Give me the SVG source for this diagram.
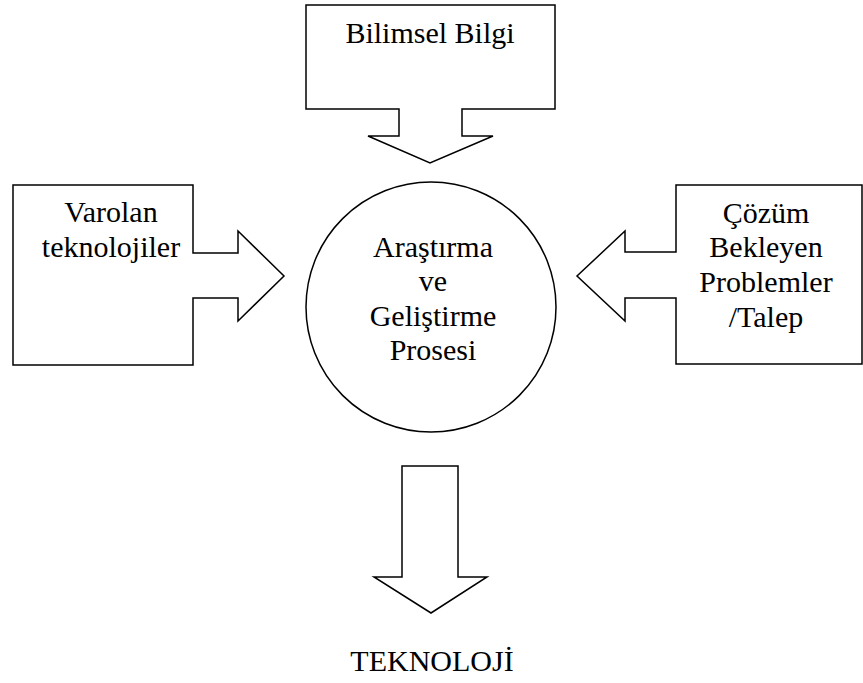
<svg xmlns="http://www.w3.org/2000/svg" width="863" height="683" viewBox="0 0 863 683">
  <style>
    .shape { fill: #ffffff; stroke: #000000; stroke-width: 1.5; stroke-linejoin: miter; }
    .label { font-size: 30px; fill: #000000; text-anchor: middle; }
  </style>
  <rect x="0" y="0" width="863" height="683" fill="#ffffff"/>

  <g font-family="'Liberation Serif', 'DejaVu Serif', serif">
  <!-- Scientific knowledge: callout box with downward arrow -->
  <g id="bilimsel-bilgi">
    <path class="shape" d="M306,5 H555 V109 H462 V136 H493 L430,163 L368,136 H399 V109 H306 Z"/>
    <text class="label" x="430" y="43">Bilimsel Bilgi</text>
  </g>

  <!-- Existing technologies: callout box with right arrow -->
  <g id="varolan-teknolojiler">
    <path class="shape" d="M13,185 H193 V253 H238 V231 L284,276 L238,321 V298 H193 V365 H13 Z"/>
    <text class="label" x="111" y="222">Varolan</text>
    <text class="label" x="111" y="257">teknolojiler</text>
  </g>

  <!-- Problems awaiting solution: callout box with left arrow -->
  <g id="cozum-bekleyen">
    <path class="shape" d="M862,185 H676 V252 H625 V231 L577,276 L625,321 V298 H676 V364 H862 Z"/>
    <text class="label" x="766" y="223">Çözüm</text>
    <text class="label" x="766" y="257">Bekleyen</text>
    <text class="label" x="766" y="292">Problemler</text>
    <text class="label" x="766" y="327">/Talep</text>
  </g>

  <!-- Central R&D process -->
  <g id="arge-prosesi">
    <circle class="shape" cx="431" cy="307" r="125"/>
    <text class="label" x="433" y="257">Araştırma</text>
    <text class="label" x="433" y="291">ve</text>
    <text class="label" x="433" y="326">Geliştirme</text>
    <text class="label" x="433" y="360">Prosesi</text>
  </g>

  <!-- Output arrow -->
  <g id="connectors">
    <path class="shape" d="M402,466 H458 V577 H487 L431,613 L374,577 H402 Z"/>
  </g>

  <!-- Output -->
  <g id="teknoloji">
    <text class="label" x="432" y="671">TEKNOLOJİ</text>
  </g>
  </g>
</svg>
